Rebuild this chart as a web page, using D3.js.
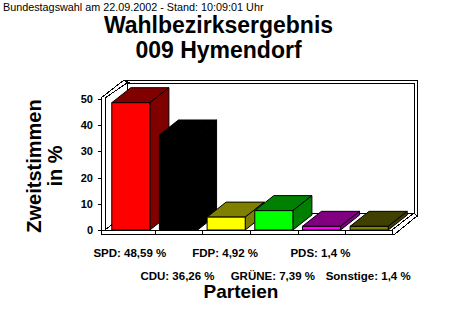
<!DOCTYPE html>
<html>
<head>
<meta charset="utf-8">
<script src="https://cdn.jsdelivr.net/npm/d3@7"></script>
<style>
  body { margin: 0; background: #fff; }
  svg { display: block; }
  text { font-family: "Liberation Sans", Arial, sans-serif; }
</style>
</head>
<body>
<svg width="460" height="313"></svg>
<script>
const categories = ['SPD', 'CDU', 'FDP', 'GRÜNE', 'PDS', 'Sonstige']
const values = [48.59, 36.26, 4.92, 7.39, 1.4, 1.4]
const frontColors = ['#ff0000', '#000000', '#ffff00', '#00ff00', '#ff00ff', '#808000']
const sideColors = ['#800000', '#000000', '#808000', '#008000', '#800080', '#404000']
const yTicks = [0, 10, 20, 30, 40, 50]

const svg = d3.select('svg')

const x = d3.scaleBand().
  domain(categories).
  range([107, 393]).
  paddingInner(0.2).
  paddingOuter(0.1)

const y = d3.scaleLinear().
  domain([0, 50]).
  range([230, 99])

// depth of walls and bars
const wd = { x: 22, y: -17 }
const bd = { x: 19, y: -15 }
const t = 4 // wall thickness

const plotL = 105, plotR = x.range()[1] - 1
const plotT = y(50) - 1, plotB = y(0)

const line = d3.line()
const poly = pts => line(pts) + 'Z'

const frame = svg.append('g').
  attr('fill', '#fff').
  attr('stroke', '#000').
  attr('stroke-width', 1).
  attr('shape-rendering', 'crispEdges')

// back wall
frame.append('path').attr('d', poly([
  [plotL + wd.x - 3, plotT + wd.y - 1], [plotR + wd.x + 3, plotT + wd.y - 1],
  [plotR + wd.x + 3, plotB + wd.y + 3], [plotR + wd.x, plotB + wd.y + 3]
]))
frame.append('rect').
  attr('x', plotL + wd.x).
  attr('y', plotT + wd.y + 2).
  attr('width', plotR - plotL).
  attr('height', plotB - plotT - 2)

// left wall
frame.append('path').attr('d', poly([
  [plotL - t, plotT], [plotL + wd.x - 3, plotT + wd.y - 1], [plotL + wd.x, plotT + wd.y + 2],
  [plotL, plotT], [plotL, plotB + t], [plotL - t, plotB + t]
]))
frame.append('path').attr('d', poly([
  [plotL, plotT], [plotL + wd.x, plotT + wd.y + 2], [plotL + wd.x, plotB + wd.y], [plotL, plotB]
]))

// floor
frame.append('path').attr('d', poly([
  [plotL, plotB], [plotL + wd.x, plotB + wd.y], [plotR + wd.x, plotB + wd.y],
  [plotR, plotB]
]))
frame.append('path').attr('d', poly([
  [plotR, plotB], [plotR + wd.x, plotB + wd.y], [plotR + wd.x + 3, plotB + wd.y + 3],
  [plotR + 3, plotB + t], [plotR, plotB + t]
]))
frame.append('rect').
  attr('x', plotL - t).
  attr('y', plotB).
  attr('width', plotR - plotL + t).
  attr('height', t)

// category ticks on the floor edge
const tickX = d => Math.round(x(d) + x.bandwidth() + x.step() * x.paddingInner() / 2) + 0.5
frame.selectAll('line.xtick').
  data(categories.slice(0, -1)).
  enter().
  append('line').
  attr('class', 'xtick').
  attr('x1', tickX).
  attr('x2', tickX).
  attr('y1', plotB).
  attr('y2', plotB + t + 1)

// y axis ticks and labels
const yAxis = svg.append('g')
yAxis.selectAll('line').
  data(yTicks).
  enter().
  append('line').
  attr('x1', plotL - t - 3).
  attr('x2', plotL - t).
  attr('y1', d => Math.round(y(d)) + 0.5).
  attr('y2', d => Math.round(y(d)) + 0.5).
  attr('stroke', '#000')
yAxis.selectAll('text').
  data(yTicks).
  enter().
  append('text').
  attr('x', 93).
  attr('y', d => y(d) + 4).
  attr('text-anchor', 'end').
  attr('font-size', 11).
  attr('font-weight', 'bold').
  text(d => d)

// bars
const bars = svg.append('g').
  attr('stroke', '#000').
  attr('stroke-width', 1).
  attr('stroke-linejoin', 'round')

categories.forEach((c, i) => {
  const x0 = x(c), x1 = x(c) + x.bandwidth()
  const y0 = y(values[i]), y1 = y(0)
  const g = bars.append('g')
  g.append('path').
    attr('fill', sideColors[i]).
    attr('d', poly([[x0, y0], [x0 + bd.x, y0 + bd.y], [x1 + bd.x, y0 + bd.y], [x1, y0]]))
  g.append('path').
    attr('fill', sideColors[i]).
    attr('d', poly([[x1, y0], [x1 + bd.x, y0 + bd.y], [x1 + bd.x, y1 + bd.y], [x1, y1]]))
  g.append('rect').
    attr('fill', frontColors[i]).
    attr('x', x0).
    attr('y', y0).
    attr('width', x.bandwidth()).
    attr('height', y1 - y0)
})

// value labels under the floor, alternating rows
svg.append('g').
  selectAll('text').
  data(categories).
  enter().
  append('text').
  attr('x', d => x(d) + x.bandwidth() / 2 - 1).
  attr('y', (d, i) => i % 2 === 0 ? 257 : 280).
  attr('text-anchor', 'middle').
  attr('font-size', 11.5).
  attr('font-weight', 'bold').
  text((d, i) => d + ': ' + String(values[i]).replace('.', ',') + ' %')

// titles
svg.append('text').
  attr('x', 3).
  attr('y', 11).
  attr('font-size', 10.8).
  text('Bundestagswahl am 22.09.2002 - Stand: 10:09:01 Uhr')

const title = svg.append('text').
  attr('text-anchor', 'middle').
  attr('font-size', 23).
  attr('font-weight', 'bold')
title.append('tspan').attr('x', 218.5).attr('y', 33).text('Wahlbezirksergebnis')
title.append('tspan').attr('x', 218.5).attr('y', 57.5).text('009 Hymendorf')

const yLabel = svg.append('text').
  attr('transform', 'translate(0,166) rotate(-90)').
  attr('text-anchor', 'middle').
  attr('font-size', 20).
  attr('font-weight', 'bold')
yLabel.append('tspan').attr('x', 0).attr('y', 41).text('Zweitstimmen')
yLabel.append('tspan').attr('x', 0).attr('y', 62).text('in %')

svg.append('text').
  attr('x', 241).
  attr('y', 298).
  attr('text-anchor', 'middle').
  attr('font-size', 19).
  attr('font-weight', 'bold').
  text('Parteien')
</script>
</body>
</html>
